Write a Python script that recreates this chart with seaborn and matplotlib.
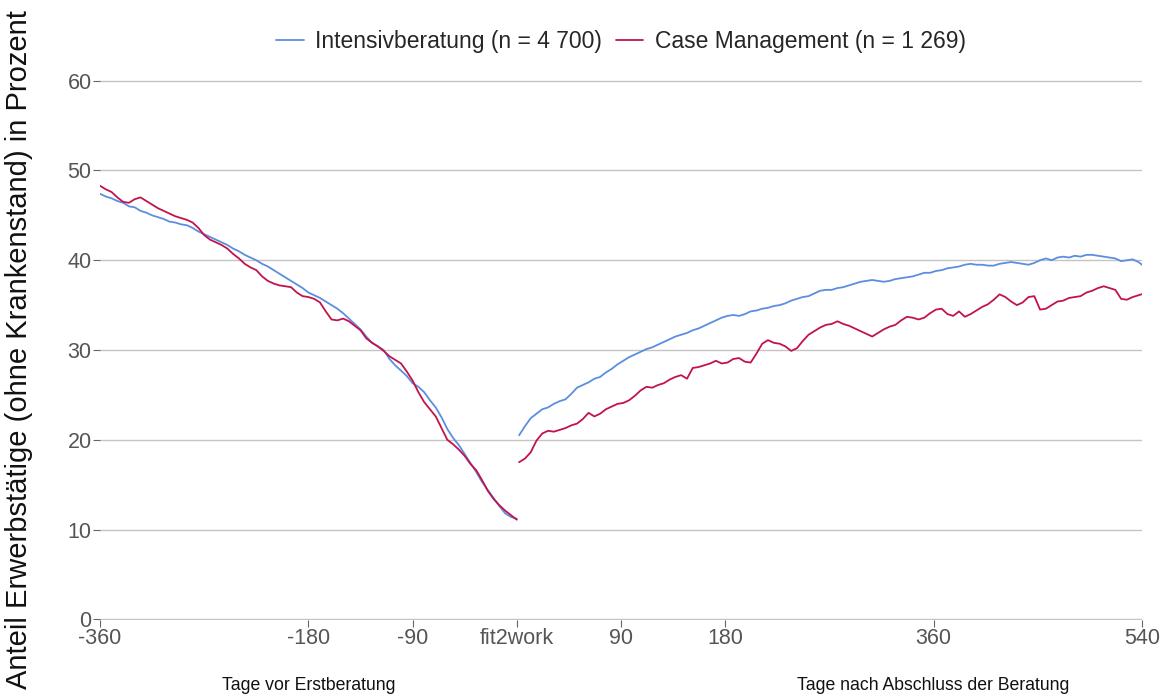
import numpy as np
import pandas as pd
import matplotlib
matplotlib.use("Agg")
import matplotlib.pyplot as plt
import matplotlib.transforms as mtransforms
import seaborn as sns

# Days relative to first consultation / end of consultation (5-day steps)
days_pre = np.arange(-360, 1, 5)
days_post = np.arange(0, 541, 5)

# Intensivberatung, before first consultation
intensiv_pre = [
    47.4, 47.1, 46.9, 46.6, 46.4, 46.0, 45.9, 45.5, 45.3, 45.0,
    44.8, 44.6, 44.3, 44.2, 44.0, 43.9, 43.6, 43.2, 42.9, 42.6,
    42.3, 42.0, 41.7, 41.3, 41.0, 40.6, 40.3, 40.0, 39.6, 39.3,
    38.9, 38.5, 38.1, 37.7, 37.3, 36.9, 36.4, 36.1, 35.8, 35.4,
    35.0, 34.6, 34.1, 33.5, 32.9, 32.3, 31.5, 30.8, 30.4, 30.0,
    29.0, 28.3, 27.7, 27.1, 26.3, 25.9, 25.3, 24.4, 23.6, 22.5,
    21.2, 20.2, 19.4, 18.4, 17.4, 16.4, 15.3, 14.4, 13.5, 12.6,
    11.8, 11.4, 11.2,
]
# Case Management, before first consultation
case_pre = [
    48.3, 47.9, 47.6, 47.0, 46.5, 46.4, 46.8, 47.0, 46.6, 46.2,
    45.8, 45.5, 45.2, 44.9, 44.7, 44.5, 44.2, 43.6, 42.8, 42.3,
    42.0, 41.7, 41.3, 40.7, 40.2, 39.6, 39.2, 38.9, 38.2, 37.7,
    37.4, 37.2, 37.1, 37.0, 36.4, 36.0, 35.9, 35.7, 35.3, 34.3,
    33.4, 33.3, 33.5, 33.2, 32.7, 32.2, 31.3, 30.8, 30.4, 29.9,
    29.3, 28.9, 28.5, 27.6, 26.6, 25.3, 24.2, 23.4, 22.6, 21.3,
    20.0, 19.5, 18.9, 18.2, 17.3, 16.6, 15.5, 14.3, 13.4, 12.7,
    12.1, 11.6, 11.1,
]
# Intensivberatung, after end of consultation
intensiv_post = [
    20.5, 21.5, 22.4, 22.9, 23.4, 23.6, 24.0, 24.3, 24.5, 25.1,
    25.8, 26.1, 26.4, 26.8, 27.0, 27.5, 27.9, 28.4, 28.8, 29.2,
    29.5, 29.8, 30.1, 30.3, 30.6, 30.9, 31.2, 31.5, 31.7, 31.9,
    32.2, 32.4, 32.7, 33.0, 33.3, 33.6, 33.8, 33.9, 33.8, 34.0,
    34.3, 34.4, 34.6, 34.7, 34.9, 35.0, 35.2, 35.5, 35.7, 35.9,
    36.0, 36.3, 36.6, 36.7, 36.7, 36.9, 37.0, 37.2, 37.4, 37.6,
    37.7, 37.8, 37.7, 37.6, 37.7, 37.9, 38.0, 38.1, 38.2, 38.4,
    38.6, 38.6, 38.8, 38.9, 39.1, 39.2, 39.3, 39.5, 39.6, 39.5,
    39.5, 39.4, 39.4, 39.6, 39.7, 39.8, 39.7, 39.6, 39.5, 39.7,
    40.0, 40.2, 40.0, 40.3, 40.4, 40.3, 40.5, 40.4, 40.6, 40.6,
    40.5, 40.4, 40.3, 40.2, 39.9, 40.0, 40.1, 39.8, 39.3,
]
# Case Management, after end of consultation
case_post = [
    17.5, 17.9, 18.6, 19.9, 20.7, 21.0, 20.9, 21.1, 21.3, 21.6,
    21.8, 22.3, 23.0, 22.6, 22.9, 23.4, 23.7, 24.0, 24.1, 24.4,
    24.9, 25.5, 25.9, 25.8, 26.1, 26.3, 26.7, 27.0, 27.2, 26.8,
    28.0, 28.1, 28.3, 28.5, 28.8, 28.5, 28.6, 29.0, 29.1, 28.7,
    28.6, 29.6, 30.7, 31.1, 30.8, 30.7, 30.4, 29.9, 30.2, 31.0,
    31.7, 32.1, 32.5, 32.8, 32.9, 33.2, 32.9, 32.7, 32.4, 32.1,
    31.8, 31.5, 31.9, 32.3, 32.6, 32.8, 33.3, 33.7, 33.6, 33.4,
    33.6, 34.1, 34.5, 34.6, 34.0, 33.8, 34.3, 33.7, 34.0, 34.4,
    34.8, 35.1, 35.6, 36.2, 35.9, 35.4, 35.0, 35.3, 35.9, 36.0,
    34.5, 34.6, 35.0, 35.4, 35.5, 35.8, 35.9, 36.0, 36.4, 36.6,
    36.9, 37.1, 36.9, 36.7, 35.7, 35.6, 35.9, 36.1, 36.3,
]

label_intensiv = "Intensivberatung (n = 4 700)"
label_case = "Case Management (n = 1 269)"
colors = {label_intensiv: "#5b8ee0", label_case: "#c2134c"}

xticks = [-360, -180, -90, 0, 90, 180, 360, 540]
xticklabels = ["-360", "-180", "-90", "fit2work", "90", "180", "360", "540"]

parts = [
    pd.DataFrame({"day": days_pre, "value": intensiv_pre, "group": label_intensiv, "seg": "pre_i"}),
    pd.DataFrame({"day": days_pre, "value": case_pre, "group": label_case, "seg": "pre_c"}),
    pd.DataFrame({"day": days_post, "value": intensiv_post, "group": label_intensiv, "seg": "post_i"}),
    pd.DataFrame({"day": days_post, "value": case_post, "group": label_case, "seg": "post_c"}),
]
df = pd.concat(parts, ignore_index=True)
# small visual gap after the fit2work point
df.loc[df["seg"].str.startswith("post"), "day"] += 2

sns.set_style("white")
plt.rcParams["font.family"] = ["Liberation Sans", "DejaVu Sans"]

fig = plt.figure(figsize=(11.71, 6.95), dpi=100)
ax = fig.add_axes([0.0854, 0.1079, 0.8898, 0.777])

sns.lineplot(data=df, x="day", y="value", hue="group", units="seg", estimator=None,
             palette=colors, hue_order=[label_intensiv, label_case],
             linewidth=1.3, ax=ax)

ax.set_xlim(-360, 540)
ax.set_ylim(-0.08, 60.08)
ax.set_yticks([0, 10, 20, 30, 40, 50, 60])
ax.set_xticks(xticks)
ax.set_xticklabels(xticklabels)
ax.grid(axis="y", color="#c4c4c4", linewidth=1.0)
ax.grid(axis="x", visible=False)
for s in ax.spines.values():
    s.set_visible(False)
ax.tick_params(axis="both", colors="#666666", labelcolor="#555555", labelsize=15.5,
               length=5, width=0.8, pad=1, left=True, bottom=True)
ax.set_xlabel("")
ax.set_ylabel("")

fig.text(0.016, 0.497, "Anteil Erwerbstätige (ohne Krankenstand) in Prozent",
         rotation=90, va="center", ha="center", fontsize=21, color="#111111")

trans = mtransforms.blended_transform_factory(ax.transData, fig.transFigure)
ax.text(-180, 0.014, "Tage vor Erstberatung", transform=trans, ha="center",
        va="center", fontsize=12.7, color="#111111")
ax.text(360, 0.014, "Tage nach Abschluss der Beratung", transform=trans, ha="center",
        va="center", fontsize=12.7, color="#111111")

ax.legend(loc="center", bbox_to_anchor=(0.5, 1.072), ncol=2, frameon=False,
          fontsize=16.5, handlelength=1.2, handletextpad=0.5, columnspacing=0.6)

fig.savefig("out.png", dpi=100)
